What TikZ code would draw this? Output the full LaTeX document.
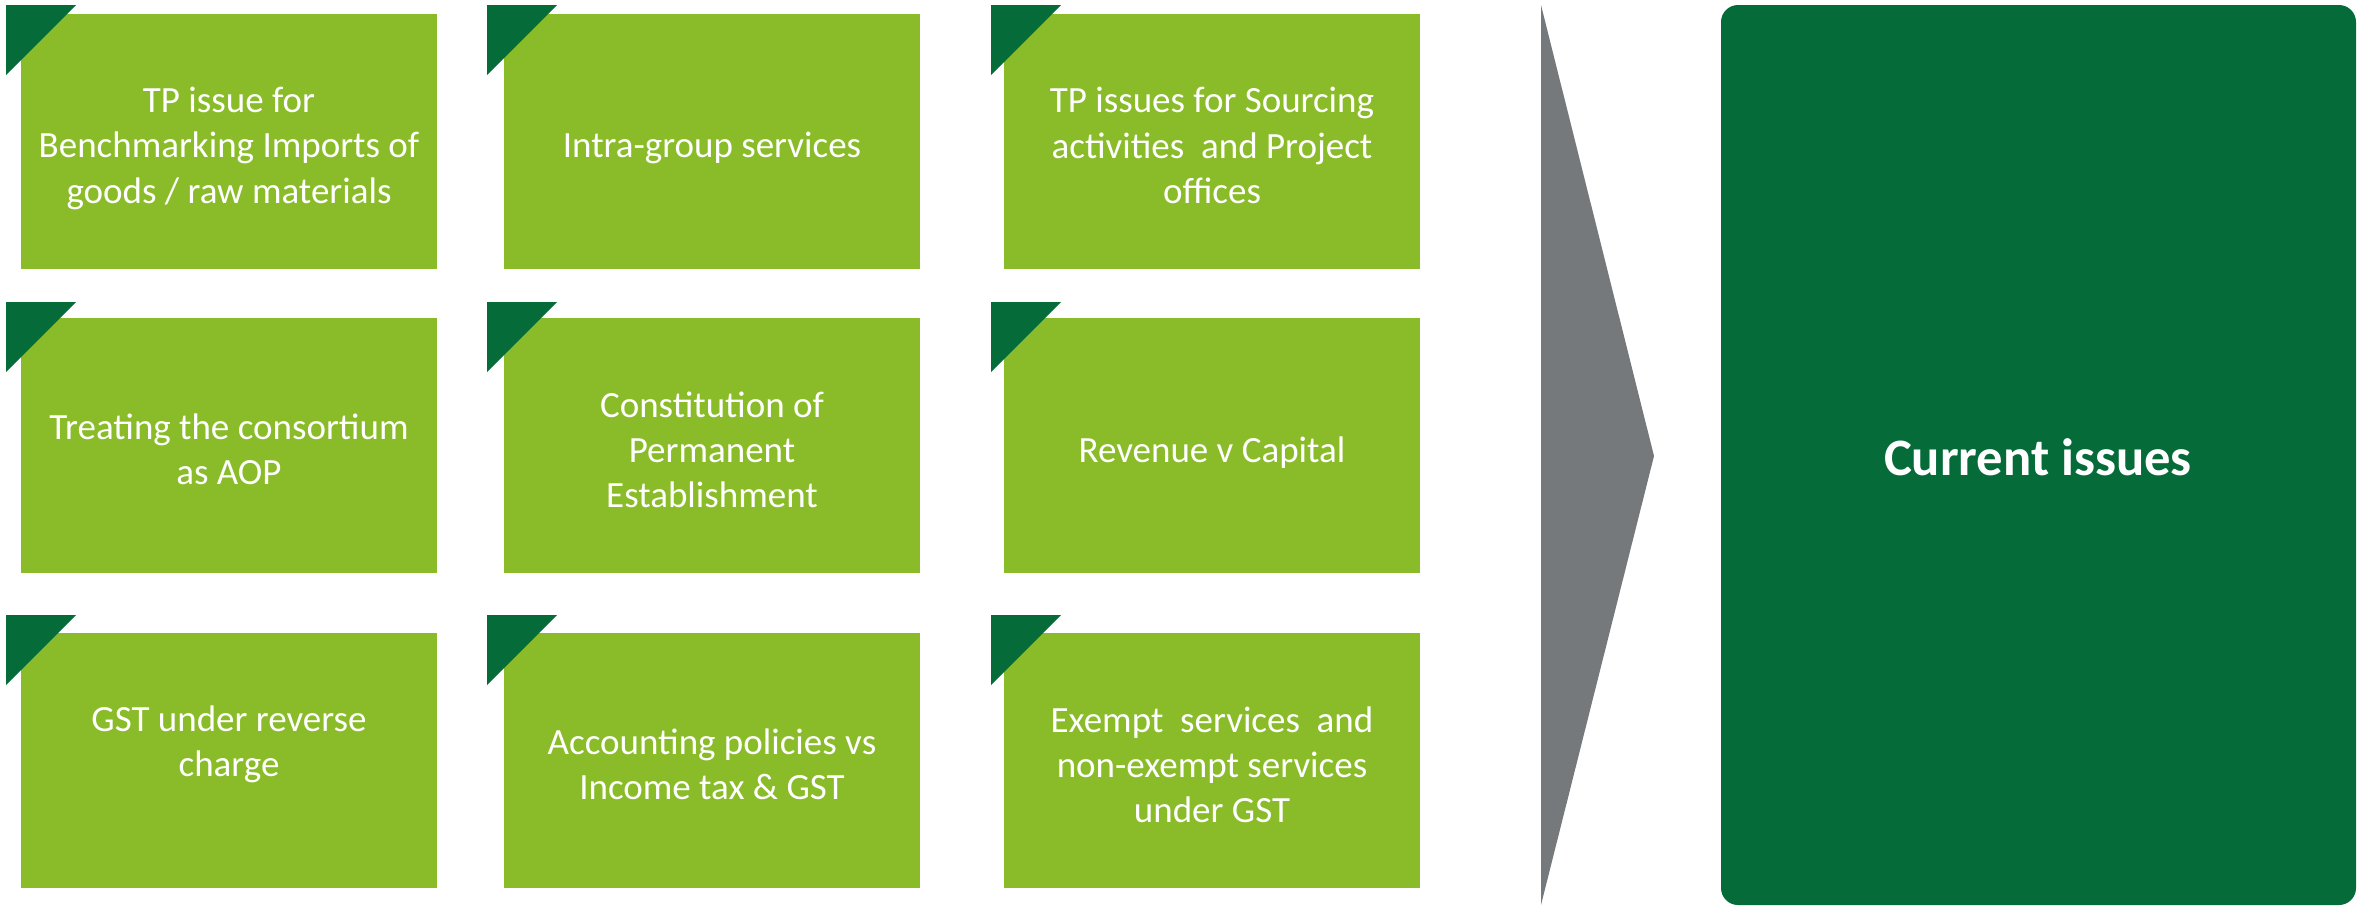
\documentclass[tikz,border=0pt]{standalone}
\usepackage{fontspec}
\usepackage{array}
\setmainfont{Carlito}
\definecolor{leaf}{RGB}{137,188,40}
\definecolor{forest}{RGB}{5,107,57}
\definecolor{slate}{RGB}{118,121,123}
% every line of a box label gets the same height and depth (22.5pt apart)
\newcommand\linestrut{\rule[-3pt]{0pt}{22.5pt}}
\newcommand\stack[1]{{\renewcommand\arraystretch{0}%
  \begin{tabular}{@{}>{\linestrut}c@{}}#1\end{tabular}}}
\tikzset{
  issue/.style={rectangle, fill=leaf, inner sep=0pt,
    minimum width=208pt, minimum height=127.75pt,
    text=white, font=\fontsize{18.5pt}{22.5pt}\selectfont},
  tab/.style={fill=forest},
  chevron/.style={fill=slate},
  summary/.style={rectangle, rounded corners=8.5pt, fill=forest, inner sep=0pt,
    minimum width=317.5pt, minimum height=450pt},
  summarytext/.style={text=white, inner sep=0pt,
    font=\fontsize{26.3pt}{31pt}\selectfont\bfseries}
}
\begin{document}
\begin{tikzpicture}[x=0.5pt,y=-0.5pt]
\useasboundingbox (0,0) rectangle (2357,906);

% issue boxes, three rows by three columns
\node[issue] (b11) at (229,141.5) {\stack{TP issue for\\Benchmarking Imports of\\goods / raw materials}};
\node[issue] (b12) at (712,141.5) {\stack{Intra-group services}};
\node[issue] (b13) at (1212,141.5) {\stack{TP issues for Sourcing\\activities\ \ and Project\\offices}};

\node[issue] (b21) at (229,445.5) {\stack{Treating the consortium\\as AOP}};
\node[issue] (b22) at (712,445.5) {\stack{Constitution of\\Permanent\\Establishment}};
\node[issue] (b23) at (1212,445.5) {\stack{Revenue v Capital}};

\node[issue] (b31) at (229,760.5) {\stack{GST under reverse\\charge\\{}}};
\node[issue] (b32) at (712,760.5) {\stack{Accounting policies vs\\Income tax \& GST}};
\node[issue] (b33) at (1212,760.5) {\stack{Exempt\ \ services\ \ and\\non-exempt services\\under GST}};

% dark corner tabs over the top-left corner of each box
\foreach \tx in {6,487,991}{
  \foreach \ty in {5,302,615}{
    \fill[tab] (\tx,\ty) -- ++(70,0) -- ++(-70,70) -- cycle;
  }
}

% chevron pointing to the summary panel
\fill[chevron] (1541,5) -- (1654,456) -- (1541,905) -- cycle;

% summary panel
\node[summary] (cur) at (2038.5,455) {};
\node[summarytext, anchor=base] (curtext) at (2038,475) {Current issues};
\end{tikzpicture}
\end{document}
